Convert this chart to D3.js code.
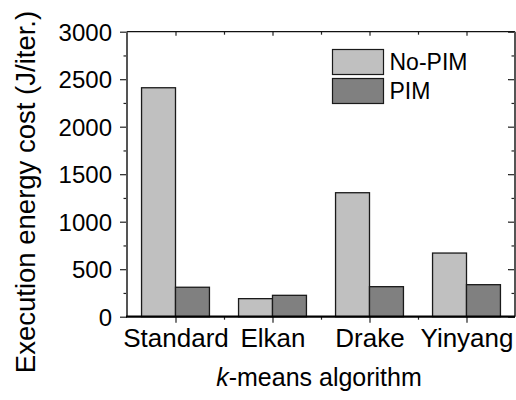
<!DOCTYPE html>
<html>
<head>
<meta charset="utf-8">
<script src="https://cdn.jsdelivr.net/npm/d3@7"></script>
<style>
  body { margin: 0; background: #fff; }
  text { font-family: "Liberation Sans", Arial, sans-serif; fill: #000; }
</style>
</head>
<body>
<div id="chart"></div>
<script>
// Data
let categories = ["Standard", "Elkan", "Drake", "Yinyang"];
let seriesNames = ["No-PIM", "PIM"];
let noPim = [2410, 190, 1305, 670];
let pim = [310, 225, 316, 337];
let yTicks = [0, 500, 1000, 1500, 2000, 2500, 3000];

let colors = ["#c0c0c0", "#808080"];

let width = 516, height = 400;
let margin = { top: 31.7, right: 1, bottom: 83.3, left: 127 };
let plotW = width - margin.left - margin.right,
	plotH = height - margin.top - margin.bottom;

let svg = d3.select("#chart").append("svg")
	.attr("width", width)
	.attr("height", height);

let g = svg.append("g")
	.attr("transform", "translate(" + margin.left + "," + margin.top + ")");

// x runs from 0.5 to 4.5, one unit per category
let x = d3.scaleLinear()
	.domain([0.5, categories.length + 0.5])
	.range([0, plotW]);

let y = d3.scaleLinear()
	.domain([0, 3000])
	.range([plotH, 0]);

let barW = 0.35; // in category units

// Bars
let rows = categories.map((c, i) => ({ cat: c, pos: i + 1, values: [noPim[i], pim[i]] }));

rows.forEach(r => {
	r.values.forEach((v, s) => {
		let x0 = s === 0 ? r.pos - barW : r.pos;
		g.append("rect")
			.attr("x", x(x0))
			.attr("y", y(v))
			.attr("width", x(x0 + barW) - x(x0))
			.attr("height", y(0) - y(v))
			.attr("fill", colors[s])
			.attr("stroke", "#1a1a1a")
			.attr("stroke-width", 1.3);
	});
});

// Minor tick positions
let yMinor = d3.range(250, 3000, 500);
let xMajor = categories.map((c, i) => i + 1);
let xMinor = d3.range(1.5, categories.length, 1);

// Left axis (ticks outward)
let leftAxis = d3.axisLeft(y).tickValues(yTicks).tickSize(7).tickPadding(8)
	.tickFormat(d3.format("d"));
let leftG = g.append("g").call(leftAxis);
leftG.select(".domain").remove();
leftG.selectAll("text").style("font-size", "24px").attr("dy", "0.36em");
g.append("g").call(d3.axisLeft(y).tickValues(yMinor).tickSize(3.5).tickFormat(""))
	.select(".domain").remove();

// Right axis (ticks inward)
let rightG = g.append("g").attr("transform", "translate(" + plotW + ",0)");
rightG.call(d3.axisLeft(y).tickValues(yTicks).tickSize(7).tickFormat(""))
	.select(".domain").remove();
rightG.append("g").call(d3.axisLeft(y).tickValues(yMinor).tickSize(3.5).tickFormat(""))
	.select(".domain").remove();

// Bottom axis (ticks outward)
let bottomG = g.append("g").attr("transform", "translate(0," + plotH + ")");
bottomG.call(d3.axisBottom(x).tickValues(xMajor).tickSize(6).tickPadding(6)
	.tickFormat((d, i) => categories[i]))
	.select(".domain").remove();
bottomG.selectAll("text").style("font-size", "26px").attr("dy", "0.71em");
bottomG.append("g").call(d3.axisBottom(x).tickValues(xMinor).tickSize(3).tickFormat(""))
	.select(".domain").remove();

// Top axis (ticks inward)
let topG = g.append("g");
topG.call(d3.axisBottom(x).tickValues(xMajor).tickSize(4).tickFormat(""))
	.select(".domain").remove();
topG.append("g").call(d3.axisBottom(x).tickValues(xMinor).tickSize(3).tickFormat(""))
	.select(".domain").remove();

g.selectAll(".tick line").attr("stroke", "#222").attr("stroke-width", 1.2);

// Frame
g.append("line").attr("x1", 0).attr("x2", plotW).attr("y1", 0).attr("y2", 0)
	.attr("stroke", "#111").attr("stroke-width", 1.3);
g.append("line").attr("x1", 0).attr("x2", 0).attr("y1", 0).attr("y2", plotH)
	.attr("stroke", "#555").attr("stroke-width", 2);
g.append("line").attr("x1", plotW).attr("x2", plotW).attr("y1", 0).attr("y2", plotH)
	.attr("stroke", "#555").attr("stroke-width", 2);
g.append("line").attr("x1", -1).attr("x2", plotW).attr("y1", plotH).attr("y2", plotH)
	.attr("stroke", "#000").attr("stroke-width", 2.2);

// Axis titles
svg.append("text")
	.attr("transform", "translate(35,192) rotate(-90)")
	.attr("text-anchor", "middle")
	.style("font-size", "27.5px")
	.text("Execution energy cost (J/iter.)");

let xt = svg.append("text")
	.attr("x", 319)
	.attr("y", 386)
	.attr("text-anchor", "middle")
	.style("font-size", "25px");
xt.append("tspan").style("font-style", "italic").text("k");
xt.append("tspan").text("-means algorithm");

// Legend
let legend = svg.append("g").attr("transform", "translate(332.5,49.5)");
seriesNames.forEach((name, i) => {
	legend.append("rect")
		.attr("x", 0)
		.attr("y", i * 29)
		.attr("width", 51)
		.attr("height", 25)
		.attr("fill", colors[i])
		.attr("stroke", "#1a1a1a")
		.attr("stroke-width", 1.2);
	legend.append("text")
		.attr("x", 57)
		.attr("y", i * 29 + 20.5)
		.style("font-size", "23px")
		.text(name);
});
</script>
</body>
</html>
